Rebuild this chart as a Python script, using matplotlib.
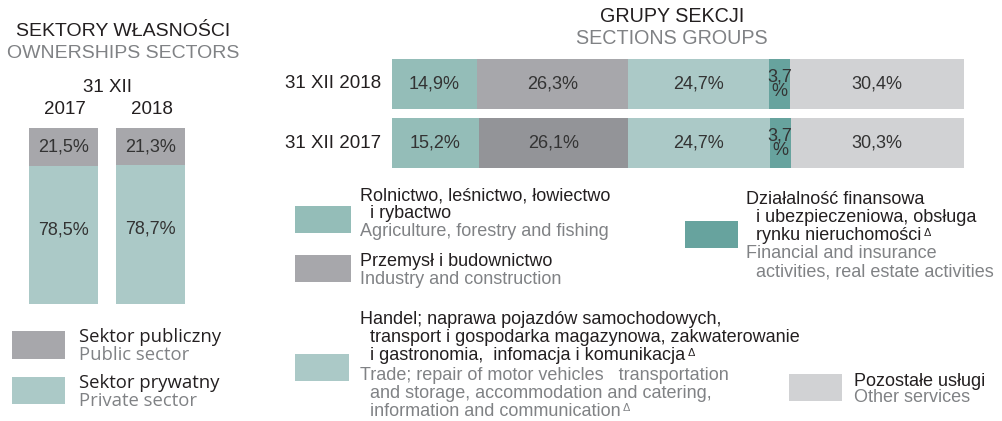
import matplotlib.pyplot as plt
from matplotlib.patches import Rectangle
from matplotlib.text import Annotation

W, H = 1003, 421

# ownership sectors (left panel)
years = ['2017', '2018']
public = [21.5, 21.3]
private = [78.5, 78.7]

# section groups (right panel)
row_labels = ['31 XII 2018', '31 XII 2017']
agri = [14.9, 15.2]
industry = [26.3, 26.1]
trade = [24.7, 24.7]
finance = [3.7, 3.7]
other = [30.4, 30.3]

C_AGRI = '#94bdb8'
C_IND = ['#a7a7ab', '#939498']
C_TRADE = '#abc9c7'
C_FIN = '#67a39e'
C_OTHER = '#d1d2d4'
C_PUB = '#a7a7ab'
C_PRIV = '#abc9c7'
DARK = '#231f20'
GREY = '#808285'
VAL = '#333333'

FONT = ['Liberation Sans', 'DejaVu Sans']
FONT_L = ['Open Sans', 'DejaVu Sans']
plt.rcParams['font.family'] = FONT


def fx(px):
    return px / W


def fy(py):
    return 1 - py / H


def txt(x, y, s, size=11, color=DARK, ha='left', family=None, delta=False):
    t = fig.text(fx(x), fy(y), s, fontsize=size, color=color, ha=ha, va='center',
                 family=family or FONT)
    if delta:
        # small triangle mark after the text
        fig.add_artist(Annotation('Δ', xy=(1, 0.7), xycoords=t,
                                  xytext=(1.5, 0), textcoords='offset points',
                                  fontsize=size * 0.6, color=color,
                                  ha='left', va='center', family=FONT))
    return t


def patch(x0, y0, x1, y1, color):
    fig.add_artist(Rectangle((fx(x0), fy(y1)), fx(x1) - fx(x0), fy(y0) - fy(y1),
                             transform=fig.transFigure, color=color, lw=0))


fig = plt.figure(figsize=(W / 100, H / 100), dpi=100)

# ---- left panel: vertical stacked bars
axl = fig.add_axes([fx(29), fy(304), fx(185) - fx(29), fy(128) - fy(304)])
bw = 69 / 87
xs = range(len(years))
axl.bar(xs, private, width=bw, color=C_PRIV, lw=0)
axl.bar(xs, public, bottom=private, width=bw, color=C_PUB, lw=0)
for i in xs:
    axl.text(i, private[i] / 2 + 3, f'{private[i]:.1f}%'.replace('.', ','),
             ha='center', va='center', fontsize=13, color=VAL)
    axl.text(i, private[i] + public[i] / 2, f'{public[i]:.1f}%'.replace('.', ','),
             ha='center', va='center', fontsize=13, color=VAL)
axl.set_xlim(-bw / 2, len(years) - 1 + bw / 2)
axl.set_ylim(0, 100)
axl.axis('off')

txt(123, 31, 'SEKTORY WŁASNOŚCI', 14, ha='center')
txt(123, 53, 'OWNERSHIPS SECTORS', 14, GREY, ha='center')
txt(108, 87, '31 XII', 13.5, ha='center')
txt(65, 110, years[0], 13.5, ha='center')
txt(152, 110, years[1], 13.5, ha='center')

# ---- right panel: horizontal stacked bars
axr = fig.add_axes([fx(392), fy(168), fx(964) - fx(392), fy(59) - fy(168)])
ys = [1, 0]
bh = 50 / 59.5
segs = [agri, industry, trade, finance, other]
for r in range(2):
    left = 0
    cols = [C_AGRI, C_IND[r], C_TRADE, C_FIN, C_OTHER]
    for seg, col in zip(segs, cols):
        v = seg[r]
        axr.barh(ys[r], v, left=left, height=bh, color=col, lw=0)
        lab = f'{v:.1f}%'.replace('.', ',')
        if v < 5:
            lab = lab.replace('%', '\n%')
            axr.text(left + v / 2, ys[r], lab, ha='center', va='center',
                     fontsize=13, color=VAL, linespacing=0.8)
        else:
            axr.text(left + v / 2, ys[r], lab, ha='center', va='center',
                     fontsize=13, color=VAL)
        left += v
    axr.text(-1.9, ys[r], row_labels[r], ha='right', va='center', fontsize=13.5,
             color=DARK)
axr.set_xlim(0, 100)
axr.set_ylim(-bh / 2, 1 + bh / 2)
axr.axis('off')

txt(672, 17, 'GRUPY SEKCJI', 14.2, ha='center')
txt(672, 38, 'SECTIONS GROUPS', 14.2, GREY, ha='center')

# ---- legend (right)
LS = 13
patch(295, 206, 351, 233, C_AGRI)
txt(360, 196, 'Rolnictwo, leśnictwo, łowiectwo', LS)
txt(360, 214, '  i rybactwo', LS)
txt(360, 232, 'Agriculture, forestry and fishing', LS, GREY)

patch(295, 255, 351, 282, C_IND[0])
txt(360, 261, 'Przemysł i budownictwo', LS)
txt(360, 279, 'Industry and construction', LS, GREY)

patch(295, 354, 349, 381, C_TRADE)
txt(360, 320, 'Handel; naprawa pojazdów samochodowych,', LS)
txt(360, 338, '  transport i gospodarka magazynowa, zakwaterowanie', LS)
txt(360, 356, '  i gastronomia,  infomacja i komunikacja', LS, delta=True)
txt(360, 375, 'Trade; repair of motor vehicles   transportation', LS, GREY)
txt(360, 393, '  and storage, accommodation and catering,', LS, GREY)
txt(360, 411, '  information and communication', LS, GREY, delta=True)

patch(685, 221, 738, 248, C_FIN)
txt(746, 200, 'Działalność finansowa', LS)
txt(746, 218, '  i ubezpieczeniowa, obsługa', LS)
txt(746, 236, '  rynku nieruchomości', LS, delta=True)
txt(746, 254, 'Financial and insurance', LS, GREY)
txt(746, 272, '  activities, real estate activities', LS, GREY)

patch(789, 374, 842, 401, C_OTHER)
txt(854, 381, 'Pozostałe usługi', LS)
txt(854, 398, 'Other services', LS, GREY)

# ---- legend (left)
patch(12, 331, 65, 359, C_PUB)
txt(79, 337, 'Sektor publiczny', 13.3, family=FONT_L)
txt(79, 355, 'Public sector', 13.3, GREY, family=FONT_L)
patch(12, 377, 65, 404, C_PRIV)
txt(79, 383, 'Sektor prywatny', 13.3, family=FONT_L)
txt(79, 401, 'Private sector', 13.3, GREY, family=FONT_L)

fig.savefig('out.png', dpi=100)
